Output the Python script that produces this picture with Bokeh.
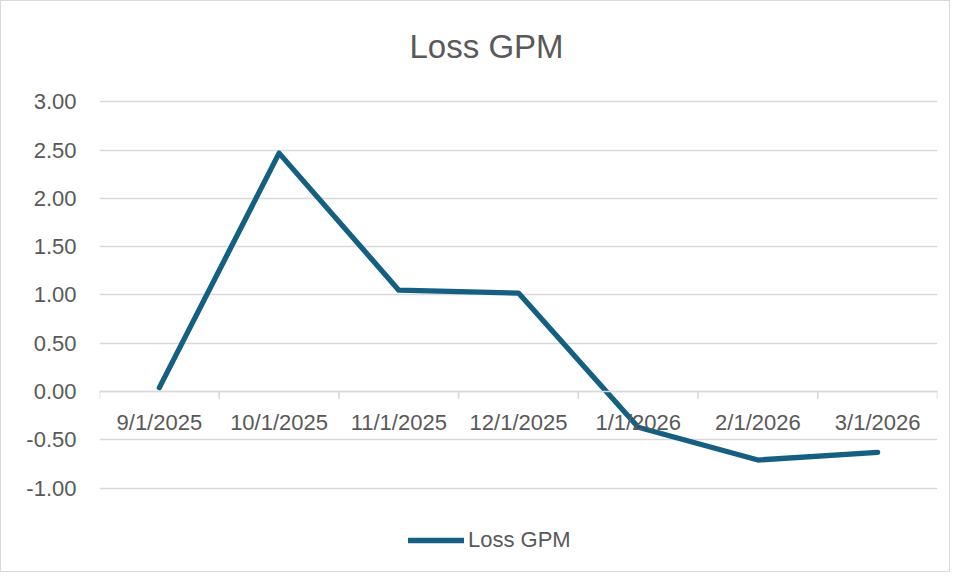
from bokeh.plotting import figure
from bokeh.models import (ColumnDataSource, FactorRange, Range1d, FixedTicker,
                          PrintfTickFormatter, Legend, LegendItem, Label)
from bokeh.embed import file_html
from bokeh.resources import INLINE

# ---- data ----
dates = ["9/1/2025", "10/1/2025", "11/1/2025", "12/1/2025",
         "1/1/2026", "2/1/2026", "3/1/2026"]
loss_gpm = [0.04, 2.47, 1.05, 1.02, -0.37, -0.71, -0.63]
y_ticks = [-1.0, -0.5, 0.0, 0.5, 1.0, 1.5, 2.0, 2.5, 3.0]
series_name = "Loss GPM"
title_text = "Loss GPM"

FONT = "Liberation Sans"
TXT = "#595959"
GRID = "#D9D9D9"
LINE = "#156082"

# the frame spans the whole chart box; gridlines/labels only at y_ticks
p = figure(width=950, height=572, x_range=FactorRange(*dates),
           y_range=Range1d(-1.865, 4.041), output_backend="svg",
           toolbar_location=None, min_border_left=98, min_border_right=14,
           min_border_top=0, min_border_bottom=2)
p.styles = {"border": "1px solid #D9D9D9"}
p.outline_line_color = None
p.background_fill_color = "white"
p.border_fill_color = "white"
p.title.text = ""

# title text
p.add_layout(Label(x=3.233, y=3.575, text=title_text, text_font=FONT,
                   text_font_size="33px", text_color=TXT,
                   text_align="center", text_baseline="middle"))

# y axis
p.yaxis.ticker = FixedTicker(ticks=y_ticks)
p.yaxis.formatter = PrintfTickFormatter(format="%.2f")
p.yaxis.axis_line_color = None
p.yaxis.major_tick_line_color = None
p.yaxis.minor_tick_line_color = None
p.yaxis.major_tick_out = 0
p.yaxis.major_label_standoff = 23
p.yaxis.major_label_text_font = FONT
p.yaxis.major_label_text_font_size = "22px"
p.yaxis.major_label_text_color = TXT

p.ygrid.ticker = FixedTicker(ticks=y_ticks)
p.ygrid.grid_line_color = GRID
p.ygrid.grid_line_width = 1.7
p.xgrid.grid_line_color = None

# x axis crossing at 0
p.xaxis.fixed_location = 0
p.xaxis.axis_line_color = GRID
p.xaxis.axis_line_width = 1.7
p.xaxis.major_tick_line_color = None
p.xaxis.minor_tick_line_color = None
p.xaxis.major_tick_out = 0
p.xaxis.major_label_standoff = 18
p.xaxis.major_label_text_font = FONT
p.xaxis.major_label_text_font_size = "22px"
p.xaxis.major_label_text_color = TXT

# category boundary tick marks
bounds = list(range(len(dates) + 1))
p.segment(x0=bounds, y0=[0] * len(bounds), x1=bounds,
          y1=[-0.075] * len(bounds), line_color=GRID, line_width=1.7)

src = ColumnDataSource(data=dict(x=dates, y=loss_gpm))
r = p.line("x", "y", source=src, line_color=LINE, line_width=5.3,
           line_cap="round", line_join="round")

legend = Legend(items=[LegendItem(label=series_name, renderers=[r])],
                location=(309, 18), orientation="horizontal",
                label_text_font=FONT, label_text_font_size="22px",
                label_text_color=TXT, glyph_width=56, glyph_height=24,
                label_standoff=4, padding=0, margin=0,
                background_fill_alpha=0, border_line_color=None)
p.add_layout(legend)

open("out.html", "w").write(file_html(p, INLINE))
